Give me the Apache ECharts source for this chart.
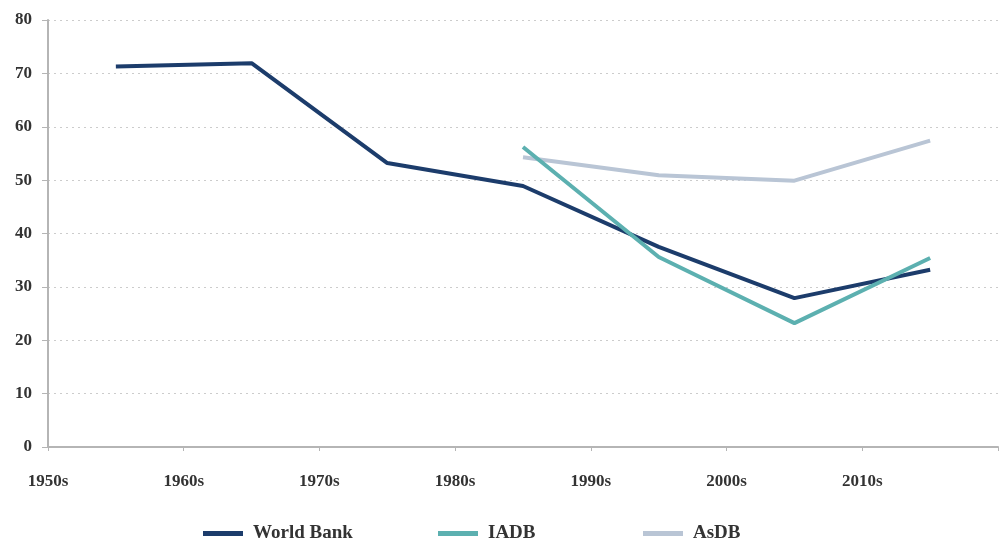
<!DOCTYPE html>
<html>
<head>
<meta charset="utf-8">
<script src="https://cdn.jsdelivr.net/npm/echarts@6/dist/echarts.min.js"></script>
<style>html,body{margin:0;padding:0;background:#fff;}#c{width:1001px;height:540px;}</style>
</head>
<body>
<div id="c"></div>
<script>
const years = [1955, 1965, 1975, 1985, 1995, 2005, 2015];
const worldBank = [71.3, 71.9, 53.2, 48.9, 37.5, 27.9, 33.2];
const iadb = [null, null, null, 56.2, 35.6, 23.2, 35.4];
const asdb = [null, null, null, 54.3, 50.9, 49.9, 57.4];
const seriesNames = ['World Bank', 'IADB', 'AsDB'];
const colors = ['#1c3c6b', '#5cb0b0', '#b9c5d5'];

function pairs(vals) {
  return years.map((y, i) => [y, vals[i]]).filter(p => p[1] !== null);
}
const fontFam = '"Liberation Serif", "DejaVu Serif", serif';
const chart = echarts.init(document.getElementById('c'));
const legendLefts = [198, 433, 638];
chart.setOption({
  animation: false,
  backgroundColor: '#fff',
  grid: { left: 48, right: 1, top: 20, bottom: 93, containLabel: false },
  legend: seriesNames.map((n, i) => ({
    data: [n], left: legendLefts[i], top: 519, icon: 'rect',
    itemWidth: 40, itemHeight: 5, itemGap: 10,
    textStyle: { fontFamily: fontFam, fontSize: 19, fontWeight: 'bold', color: '#333', padding: [0, 0, 0, 5] }
  })),
  xAxis: {
    type: 'value', min: 1950, max: 2020, interval: 10,
    axisLine: { show: true, lineStyle: { color: '#b5b5b5', width: 2 } },
    axisTick: { show: true, length: 4, lineStyle: { color: '#b5b5b5' } },
    splitLine: { show: false },
    axisLabel: {
      margin: 26, fontFamily: fontFam, fontSize: 17, fontWeight: 'bold', color: '#333',
      formatter: v => v < 2020 ? v + 's' : ''
    }
  },
  yAxis: {
    type: 'value', min: 0, max: 80, interval: 10,
    axisLine: { show: true, lineStyle: { color: '#b5b5b5', width: 2 } },
    axisTick: { show: true, length: 6, lineStyle: { color: '#b5b5b5' } },
    splitLine: { show: true, lineStyle: { color: '#cccccc', type: [2, 4], width: 1 } },
    axisLabel: { margin: 16, fontFamily: fontFam, fontSize: 17, fontWeight: 'bold', color: '#333' }
  },
  series: [
    { name: seriesNames[0], type: 'line', data: pairs(worldBank), symbol: 'none', lineStyle: { width: 4, color: colors[0] }, itemStyle: { color: colors[0] }, z: 3 },
    { name: seriesNames[1], type: 'line', data: pairs(iadb), symbol: 'none', lineStyle: { width: 4, color: colors[1] }, itemStyle: { color: colors[1] }, z: 4 },
    { name: seriesNames[2], type: 'line', data: pairs(asdb), symbol: 'none', lineStyle: { width: 4, color: colors[2] }, itemStyle: { color: colors[2] }, z: 2 }
  ]
});
</script>
</body>
</html>
